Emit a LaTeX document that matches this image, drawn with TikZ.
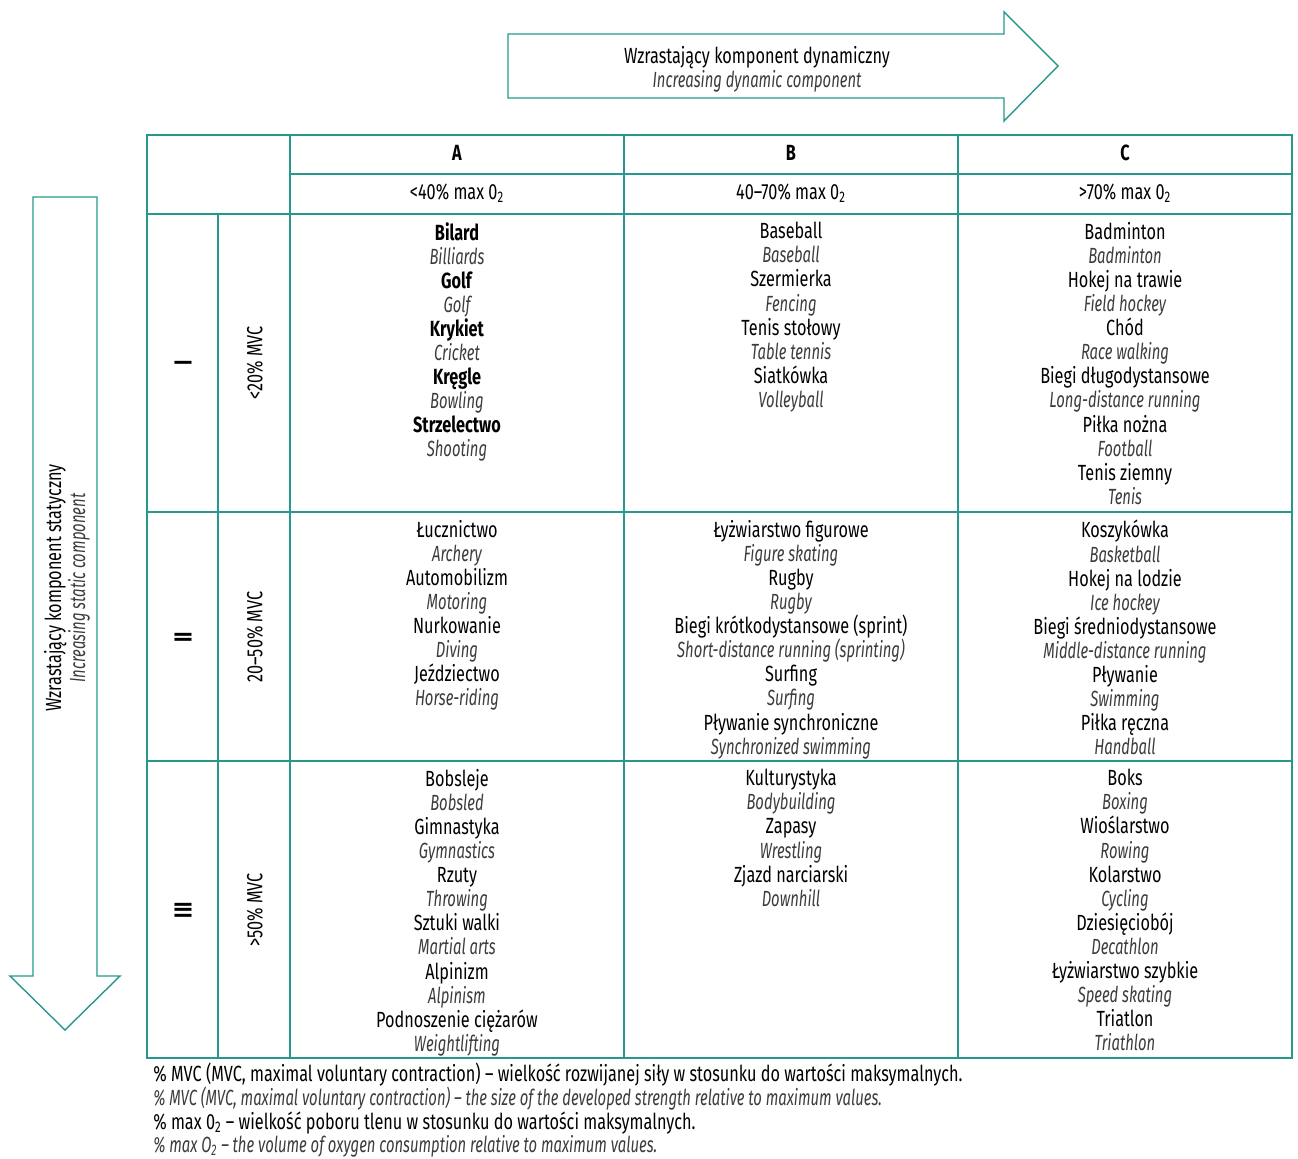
\documentclass[tikz,border=0pt]{standalone}
\usepackage{fontspec}
\setmainfont{Fira Sans}[FakeStretch=0.74,ItalicFeatures={FakeStretch=0.675},BoldItalicFeatures={FakeStretch=0.675}]
\usepackage{xcolor}
\usepackage{tikz}
\definecolor{tealframe}{RGB}{40,152,140}
\definecolor{engray}{RGB}{60,60,60}
\newcommand{\en}[1]{{\itshape\color{engray}#1}}
\newcommand{\sport}[2]{#1\\\en{#2}}
\newcommand{\bsport}[2]{\textbf{#1}\\\en{#2}}

\begin{document}
\begin{tikzpicture}[x=0.02cm,y=-0.02cm,
  font=\fontsize{12.5}{13.7}\selectfont,
  tealline/.style={draw=tealframe,line width=1pt},
  cell/.style={anchor=north,align=center,inner sep=0pt},
  sidelabel/.style={rotate=90,inner sep=0pt}]
\useasboundingbox (0,0) rectangle (1298,1159);

% arrows
\draw[tealline,line width=0.8pt] (508,34) -- (1004,34) -- (1004,12) -- (1058,66) -- (1004,121) -- (1004,98) -- (508,98) -- cycle;
\draw[tealline,line width=0.8pt] (33,197) -- (97,197) -- (97,976) -- (120,976) -- (65,1030) -- (10,976) -- (33,976) -- cycle;
\node[align=center,inner sep=0pt] (dyn) at (757,69) {Wzrastający komponent dynamiczny\\\en{Increasing dynamic component}};
\node[sidelabel,align=center] (stat) at (67,588) {Wzrastający komponent statyczny\\\en{Increasing static component}};

% table frame
\draw[tealline] (147,135) rectangle (1292,1058);
\draw[tealline] (290,135) -- (290,1058);
\draw[tealline] (624,135) -- (624,1058);
\draw[tealline] (958,135) -- (958,1058);
\draw[tealline] (218,214) -- (218,1058);
\draw[tealline] (290,174) -- (1292,174);
\draw[tealline] (147,214) -- (1292,214);
\draw[tealline] (147,512) -- (1292,512);
\draw[tealline] (147,761) -- (1292,761);

% header
\node (colA) at (457,153) {\textbf{A}};
\node (colB) at (791,153) {\textbf{B}};
\node (colC) at (1125,153) {\textbf{C}};
\node (oxA) at (457,193) {<40\% max 0\textsubscript{2}};
\node (oxB) at (791,193) {40–70\% max 0\textsubscript{2}};
\node (oxC) at (1125,193) {>70\% max 0\textsubscript{2}};

% rows
\node[sidelabel] (rowI) at (183,363) {\fontsize{14}{14}\selectfont\textbf{I}};
\node[sidelabel] (rowII) at (183,637) {\fontsize{14}{14}\selectfont\textbf{II}};
\node[sidelabel] (rowIII) at (183,910) {\fontsize{14}{14}\selectfont\textbf{III}};
\node[sidelabel] (mvcI) at (255,363) {<20\% MVC};
\node[sidelabel] (mvcII) at (255,637) {20–50\% MVC};
\node[sidelabel] (mvcIII) at (255,910) {>50\% MVC};

% cells
\node[cell] (IA) at (457,222) {\bsport{Bilard}{Billiards}\\\bsport{Golf}{Golf}\\\bsport{Krykiet}{Cricket}\\\bsport{Kręgle}{Bowling}\\\bsport{Strzelectwo}{Shooting}};
\node[cell] (IB) at (791,222) {\sport{Baseball}{Baseball}\\\sport{Szermierka}{Fencing}\\\sport{Tenis stołowy}{Table tennis}\\\sport{Siatkówka}{Volleyball}};
\node[cell] (IC) at (1125,222) {\sport{Badminton}{Badminton}\\\sport{Hokej na trawie}{Field hockey}\\\sport{Chód}{Race walking}\\\sport{Biegi długodystansowe}{Long-distance running}\\\sport{Piłka nożna}{Football}\\\sport{Tenis ziemny}{Tenis}};
\node[cell] (IIA) at (457,520) {\sport{Łucznictwo}{Archery}\\\sport{Automobilizm}{Motoring}\\\sport{Nurkowanie}{Diving}\\\sport{Jeździectwo}{Horse-riding}};
\node[cell] (IIB) at (791,520) {\sport{Łyżwiarstwo figurowe}{Figure skating}\\\sport{Rugby}{Rugby}\\\sport{Biegi krótkodystansowe (sprint)}{Short-distance running (sprinting)}\\\sport{Surfing}{Surfing}\\\sport{Pływanie synchroniczne}{Synchronized swimming}};
\node[cell] (IIC) at (1125,520) {\sport{Koszykówka}{Basketball}\\\sport{Hokej na lodzie}{Ice hockey}\\\sport{Biegi średniodystansowe}{Middle-distance running}\\\sport{Pływanie}{Swimming}\\\sport{Piłka ręczna}{Handball}};
\node[cell] (IIIA) at (457,769) {\sport{Bobsleje}{Bobsled}\\\sport{Gimnastyka}{Gymnastics}\\\sport{Rzuty}{Throwing}\\\sport{Sztuki walki}{Martial arts}\\\sport{Alpinizm}{Alpinism}\\\sport{Podnoszenie ciężarów}{Weightlifting}};
\node[cell] (IIIB) at (791,769) {\sport{Kulturystyka}{Bodybuilding}\\\sport{Zapasy}{Wrestling}\\\sport{Zjazd narciarski}{Downhill}};
\node[cell] (IIIC) at (1125,769) {\sport{Boks}{Boxing}\\\sport{Wioślarstwo}{Rowing}\\\sport{Kolarstwo}{Cycling}\\\sport{Dziesięciobój}{Decathlon}\\\sport{Łyżwiarstwo szybkie}{Speed skating}\\\sport{Triatlon}{Triathlon}};

% footnotes
\node[anchor=north west,align=left,inner sep=0pt,font=\fontsize{12.5}{13.4}\selectfont] (notes) at (153,1063) {\% MVC (MVC, maximal voluntary contraction) – wielkość rozwijanej siły w stosunku do wartości maksymalnych.\\
\en{\% MVC (MVC, maximal voluntary contraction) – the size of the developed strength relative to maximum values.}\\
\% max 0\textsubscript{2} – wielkość poboru tlenu w stosunku do wartości maksymalnych.\\
\en{\% max O\textsubscript{2} – the volume of oxygen consumption relative to maximum values.}};
\end{tikzpicture}
\end{document}
